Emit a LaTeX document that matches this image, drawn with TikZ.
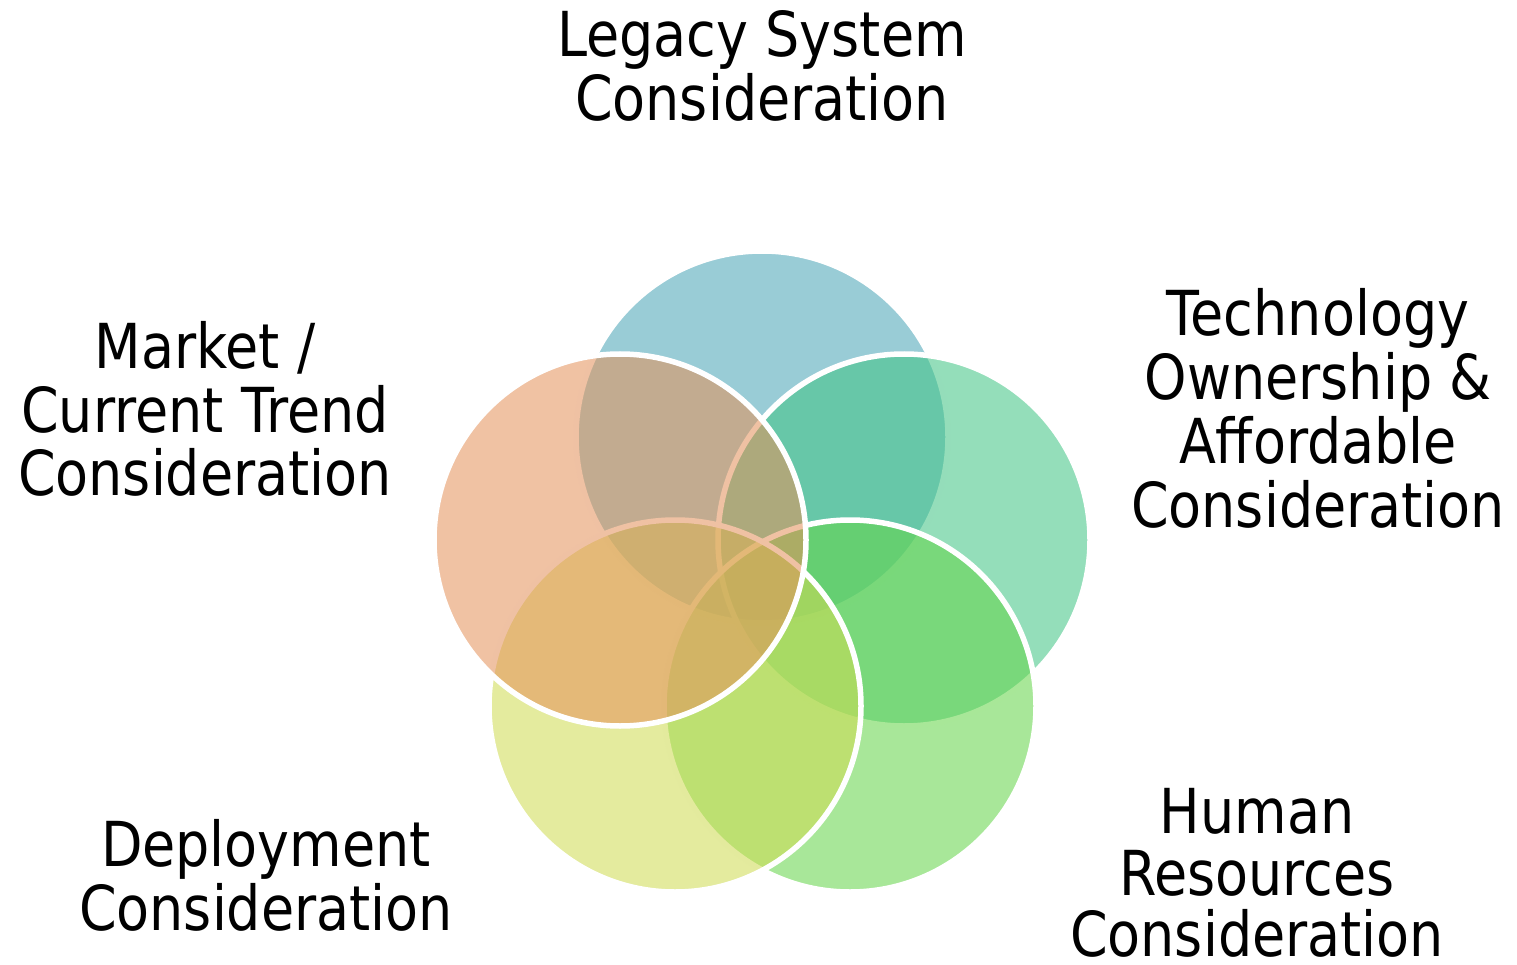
\documentclass[tikz,border=0pt]{standalone}
\usepackage{fontspec}
\setmainfont{DejaVu Sans}[FakeStretch=0.87]
\definecolor{cblue}{RGB}{73,164,182}
\definecolor{cteal}{RGB}{65,196,132}
\definecolor{cgreen}{RGB}{100,213,73}
\definecolor{cyellow}{RGB}{206,219,82}
\definecolor{csalmon}{RGB}{228,146,91}
\tikzset{
  venn/.style={circle, minimum size=372pt, inner sep=0pt, draw=white, line width=5.5pt, fill=#1, fill opacity=0.56},
  lbl/.style={anchor=base, inner sep=0pt, font=\fontsize{62}{64}\selectfont, text=black}
}
\begin{document}
\begin{tikzpicture}[x=1pt,y=-1pt]
\useasboundingbox (0,0) rectangle (1517,965);
\node[venn=cblue]   (legacy) at (762,437) {};
\node[venn=cteal]   (tech)   at (904,540) {};
\node[venn=cgreen]  (human)  at (850,706) {};
\node[venn=cyellow] (deploy) at (675,706) {};
\node[venn=csalmon] (market) at (620,540) {};
% labels
\node[lbl] (legacyA) at (762,57)  {Legacy System};
\node[lbl] (legacyB) at (762,121) {Consideration};
\node[lbl] (techA) at (1318,335) {Technology};
\node[lbl] (techB) at (1318,399) {Ownership \&};
\node[lbl] (techC) at (1318,463) {Affordable};
\node[lbl] (techD) at (1318,527) {Consideration};
\node[lbl] (marketA) at (205,368) {Market /};
\node[lbl] (marketB) at (205,432) {Current Trend};
\node[lbl] (marketC) at (205,495) {Consideration};
\node[lbl] (deployA) at (266,866) {Deployment};
\node[lbl] (deployB) at (266,930) {Consideration};
\node[lbl] (humanA) at (1257,833) {Human};
\node[lbl] (humanB) at (1257,895) {Resources};
\node[lbl] (humanC) at (1257,956) {Consideration};
\end{tikzpicture}
\end{document}
